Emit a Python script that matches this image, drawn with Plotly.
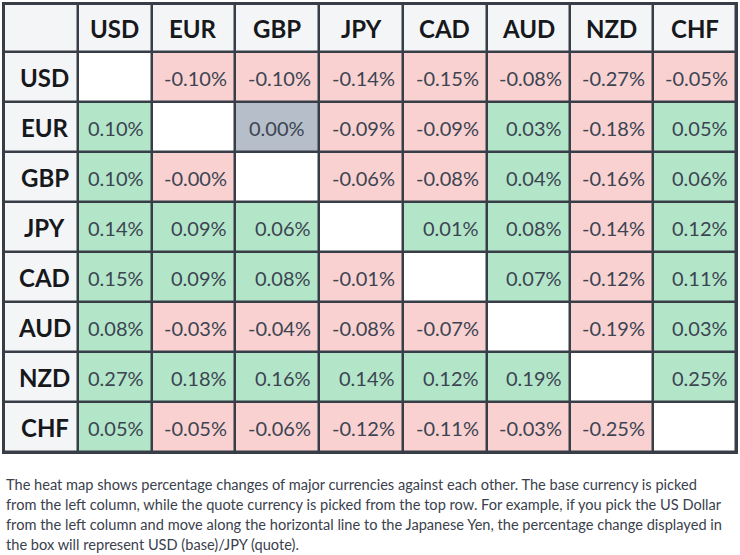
import math
import numpy as np
import plotly.graph_objects as go

# currency cross table, base currency = row, quote currency = column
currencies = ["USD", "EUR", "GBP", "JPY", "CAD", "AUD", "NZD", "CHF"]

usd = [None, -0.10, -0.10, -0.14, -0.15, -0.08, -0.27, -0.05]
eur = [0.10, None, 0.00, -0.09, -0.09, 0.03, -0.18, 0.05]
gbp = [0.10, -0.0, None, -0.06, -0.08, 0.04, -0.16, 0.06]
jpy = [0.14, 0.09, 0.06, None, 0.01, 0.08, -0.14, 0.12]
cad = [0.15, 0.09, 0.08, -0.01, None, 0.07, -0.12, 0.11]
aud = [0.08, -0.03, -0.04, -0.08, -0.07, None, -0.19, 0.03]
nzd = [0.27, 0.18, 0.16, 0.14, 0.12, 0.19, None, 0.25]
chf = [0.05, -0.05, -0.06, -0.12, -0.11, -0.03, -0.25, None]
rows = [usd, eur, gbp, jpy, cad, aud, nzd, chf]

caption = [
    "The heat map shows percentage changes of major currencies against each other. The base currency is picked",
    "from the left column, while the quote currency is picked from the top row. For example, if you pick the US Dollar",
    "from the left column and move along the horizontal line to the Japanese Yen, the percentage change displayed in",
    "the box will represent USD (base)/JPY (quote).",
]

# layout stuff (pixels)
col_widths = [74, 74, 84, 84, 84, 84, 84, 83, 83]
row_heights = [48] + [50] * 8
W, H = 740, 555
ML, MT, MR, MB = 4, 4, 2, 103

HEADER_BG = "#f4f5f7"
WHITE = "#ffffff"
RED = "#f9d1d1"
GREEN = "#b3e6c9"
GREY = "#b6bec9"
BORDER = "#383e47"

xe = np.concatenate([[0], np.cumsum(col_widths)])
ye = np.concatenate([[0], np.cumsum(row_heights)])


def is_neg(v):
    return math.copysign(1, v) < 0


# colour code per cell: 0 header, 1 empty, 2 down, 3 up, 4 unchanged
z = [[0] * 9]
for i, r in enumerate(rows):
    line = [0]
    for v in r:
        if v is None:
            line.append(1)
        elif is_neg(v):
            line.append(2)
        elif v > 0:
            line.append(3)
        else:
            line.append(4)
    z.append(line)

fig = go.Figure()
fig.add_trace(go.Heatmap(
    z=z,
    x=xe,
    y=ye,
    zmin=0,
    zmax=4,
    colorscale=[[0, HEADER_BG], [0.25, WHITE], [0.5, RED], [0.75, GREEN], [1, GREY]],
    showscale=False,
    xgap=2.5,
    ygap=2.5,
    hoverinfo="skip"))

ann = []
# column headers
for j, c in enumerate(currencies):
    ann.append(dict(x=(xe[j + 1] + xe[j + 2]) / 2, y=(ye[0] + ye[1]) / 2,
                    text="<b>" + c + "</b>", showarrow=False,
                    font=dict(family="Lato", size=24, color="#16181c")))
# row labels and values
for i, c in enumerate(currencies):
    yc = (ye[i + 1] + ye[i + 2]) / 2
    ann.append(dict(x=xe[0] + 41, y=yc, text="<b>" + c + "</b>", showarrow=False,
                    font=dict(family="Lato", size=24, color="#16181c")))
    for j, v in enumerate(rows[i]):
        if v is None:
            continue
        txt = f"{v:.2f}%"
        if v == 0 and not is_neg(v):
            xpos, anchor = (xe[j + 1] + xe[j + 2]) / 2, "center"
        else:
            xpos, anchor = xe[j + 2] - 6, "right"
        ann.append(dict(x=xpos, y=yc + 1, text=txt, xanchor=anchor, showarrow=False,
                        font=dict(family="Lato", size=20, color="#3c4452")))

# caption under the table
plot_h = H - MT - MB
for k, t in enumerate(caption):
    py = 484 + k * 20.3
    ann.append(dict(xref="paper", yref="paper", x=0, y=(H - MB - py) / plot_h,
                    xanchor="left", yanchor="middle", text=t, showarrow=False,
                    font=dict(family="Lato", size=14.6, color="#3a414d")))

fig.update_layout(
    width=W,
    height=H,
    margin=dict(l=ML, r=MR, t=MT, b=MB),
    paper_bgcolor="white",
    plot_bgcolor=BORDER,
    annotations=ann,
    xaxis=dict(range=[xe[0], xe[-1]], visible=True, showticklabels=False, showgrid=False,
               zeroline=False, ticks="", showline=True, mirror=True,
               linecolor=BORDER, linewidth=2, fixedrange=True),
    yaxis=dict(range=[ye[-1], ye[0]], showticklabels=False, showgrid=False,
               zeroline=False, ticks="", showline=True, mirror=True,
               linecolor=BORDER, linewidth=2, fixedrange=True),
)

# page body has a default 8px margin, drop it so the figure sits at 0,0
fig.write_html("out.html", config={"displayModeBar": False},
               post_script="document.body.style.margin='0';")
